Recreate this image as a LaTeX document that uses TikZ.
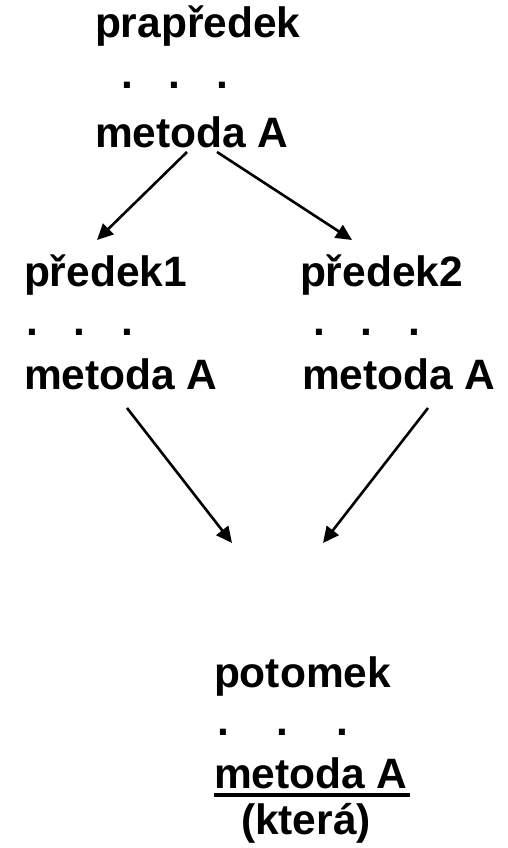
\documentclass[tikz,border=0pt]{standalone}
\usepackage{fontspec}
\setmainfont{Liberation Sans}
\usetikzlibrary{arrows.meta}
\begin{document}
\begin{tikzpicture}[x=1pt,y=-1pt,
  label/.style={anchor=base west,inner sep=0pt,outer sep=0pt,
    font=\fontsize{42.5}{50}\selectfont\bfseries},
  link/.style={line width=2.6pt,-{Triangle[length=16pt,width=15pt]}}]
\useasboundingbox[fill=white] (0,0) rectangle (508,848);

% ancestor at the top
\node[label] (pp)  at (95,38)  {prapředek};
\node[label] (ppd) at (121,89) {.\hspace{36pt}.\hspace{36pt}.};
\node[label] (ppm) at (95,147) {metoda A};

% two parents
\node[label] (p1)  at (24,286)  {předek1};
\node[label] (p1d) at (26,335)  {.\hspace{35.5pt}.\hspace{36pt}.};
\node[label] (p1m) at (24,389)  {metoda A};

\node[label] (p2)  at (300,286) {předek2};
\node[label] (p2d) at (313,335) {.\hspace{36pt}.\hspace{36pt}.};
\node[label] (p2m) at (302,389) {metoda A};

% descendant
\node[label] (d)   at (214,687) {potomek};
\node[label] (dd)  at (217,735) {.\hspace{48pt}.\hspace{48pt}.};
\node[label] (dm)  at (214,788) {metoda A};
\node[label] (dq)  at (241,834) {(která)};
\draw[line width=4pt] ([yshift=-7pt]dm.base west) -- ([yshift=-7pt,xshift=2pt]dm.base east);

% arrow end points
\coordinate (a1s) at (187,152);
\coordinate (a1e) at (97,240);
\coordinate (a2s) at (217,152);
\coordinate (a2e) at (352,240);
\coordinate (a3s) at (127,408);
\coordinate (a3e) at (232,543);
\coordinate (a4s) at (428,408);
\coordinate (a4e) at (323,543);

\draw[link] (a1s) -- (a1e);
\draw[link] (a2s) -- (a2e);
\draw[link] (a3s) -- (a3e);
\draw[link] (a4s) -- (a4e);
\end{tikzpicture}
\end{document}
